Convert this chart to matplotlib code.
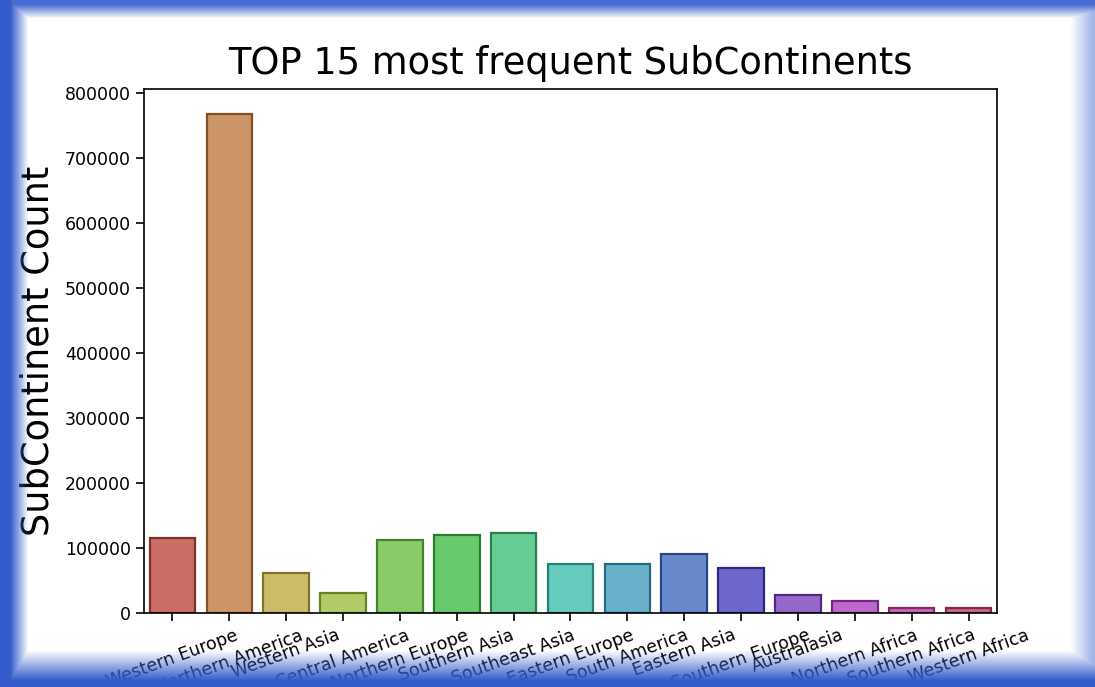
import numpy as np
import matplotlib
matplotlib.use("Agg")
import matplotlib.pyplot as plt
import seaborn as sns
import colorsys

subcontinents = [
    "Western Europe", "Northern America", "Western Asia", "Central America",
    "Northern Europe", "Southern Asia", "Southeast Asia", "Eastern Europe",
    "South America", "Eastern Asia", "Southern Europe", "Australasia",
    "Northern Africa", "Southern Africa", "Western Africa",
]
counts = [116000, 768000, 61500, 30500, 112000, 120000, 123000, 75000,
          75000, 90500, 69000, 27600, 18500, 7700, 7500]

# seaborn hls palette, desaturated like barplot's default saturation=0.75
base = sns.color_palette("hls", len(subcontinents))
fills = []
edges = []
for c in base:
    h, l, s = colorsys.rgb_to_hls(*c)
    fills.append(colorsys.hls_to_rgb(h, l, s * 0.75))
    edges.append(colorsys.hls_to_rgb(h, 0.33, s * 0.8))

W, H = 1095, 687
fig = plt.figure(figsize=(W / 100, H / 100), dpi=100)
fig.patch.set_facecolor("white")
ax = fig.add_axes([0.1315, 0.1077, 0.779, 0.7628])

x = np.arange(len(subcontinents))
ax.bar(x, counts, width=0.8, color=fills, edgecolor=edges, linewidth=1.6)
ax.set_xlim(-0.5, len(subcontinents) - 0.5)
ax.set_ylim(0, max(counts) * 1.05)
ax.set_yticks(np.arange(0, 800001, 100000))
ax.tick_params(axis="both", labelsize=12.5, length=6, width=1.2)
ax.set_xticks(x)
ax.set_xticklabels(subcontinents, rotation=20, ha="center")
ax.set_ylabel("SubContinent Count", fontsize=26.5, labelpad=6)
ax.set_title("TOP 15 most frequent SubContinents", fontsize=26.5, pad=11)
for sp in ax.spines.values():
    sp.set_linewidth(1.2)

# blue screenshot frame drawn on top
yy, xx = np.mgrid[0:H, 0:W]
def fade(d, solid, width):
    return np.clip(1 - (d - solid) / width, 0, 1)
a_left = fade(xx, 10, 18)
a_top = fade(yy, 4, 14) * 0.9
a_bot = fade(H - 1 - yy, 6, 30)
a_right = fade(W - 1 - xx, 2, 22) * 0.45
alpha = np.maximum.reduce([a_left, a_top, a_bot, a_right])
frame = np.zeros((H, W, 4))
frame[..., 0] = 0.20
frame[..., 1] = 0.36
frame[..., 2] = 0.80
frame[..., 3] = alpha
fax = fig.add_axes([0, 0, 1, 1], zorder=10)
fax.imshow(frame, aspect="auto", interpolation="bilinear")
fax.axis("off")

fig.savefig("out.png", dpi=100)
